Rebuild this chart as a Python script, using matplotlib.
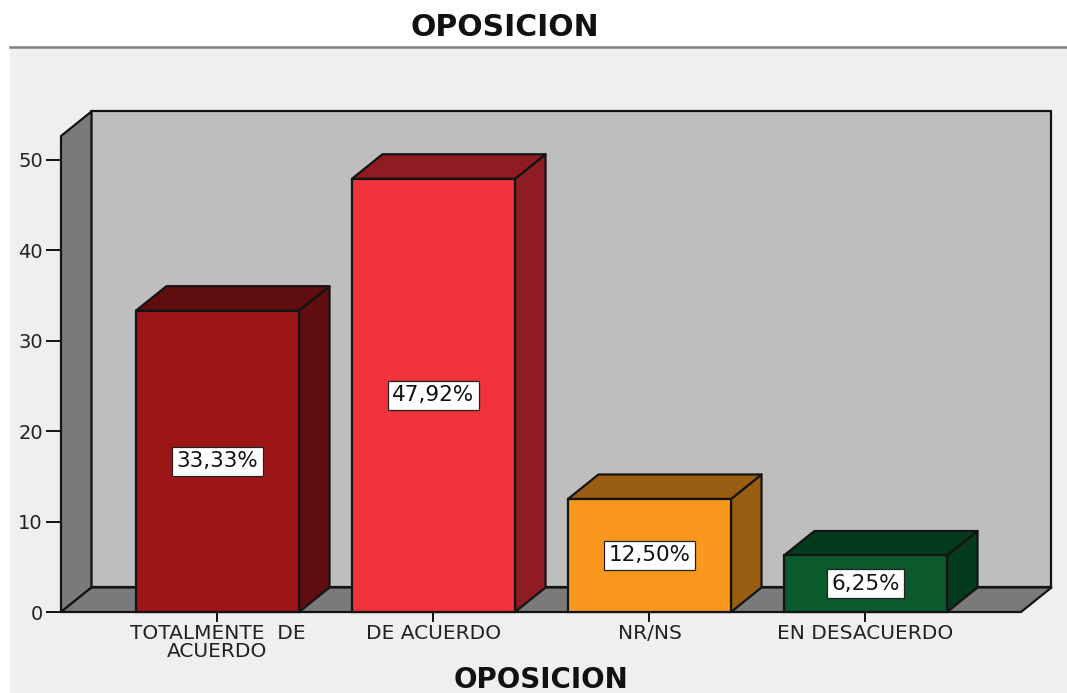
import matplotlib
matplotlib.use("Agg")
import matplotlib.pyplot as plt
from matplotlib.patches import Polygon, Rectangle
from matplotlib.lines import Line2D

plt.rcParams['font.family'] = ['DejaVu Sans']

categorias = ["TOTALMENTE  DE\nACUERDO", "DE ACUERDO", "NR/NS", "EN DESACUERDO"]
valores = [33.33, 47.92, 12.50, 6.25]
etiquetas = ["33,33%", "47,92%", "12,50%", "6,25%"]
ticks_y = [0, 10, 20, 30, 40, 50]
frente = ["#9E1518", "#F2333B", "#F9981D", "#0A5A2E"]
lado = ["#5F0D0F", "#8E1C22", "#9A5E12", "#063A1D"]

W, H = 1067, 693
fig = plt.figure(figsize=(W / 100, H / 100), dpi=100, facecolor="white")

# fondo gris del panel
fig.add_artist(Rectangle((10 / W, 0), (W - 10) / W, 1 - 47 / H, transform=fig.transFigure,
                         facecolor="#EFEFEF", edgecolor="none", zorder=-5))
fig.add_artist(Line2D([10 / W, 1], [1 - 47 / H, 1 - 47 / H], color="#7F7F7F", lw=1.8, zorder=-4))

ax = fig.add_axes([61 / W, 1 - 612 / H, 960 / W, 476 / H])
ax.patch.set_visible(False)
ax.set_xlim(-0.7245, 3.72)
ax.set_ylim(0, 52.65)
for s in ax.spines.values():
    s.set_visible(False)

dx = 30.5 / 216  # profundidad en unidades de datos
dy = 24.5 / 9.04
ancho = 0.755
x0, x1 = ax.get_xlim()
y1 = ax.get_ylim()[1]
borde = dict(edgecolor="#141414", linewidth=1.6, clip_on=False, joinstyle="round")

# paredes y suelo
ax.add_patch(Polygon([(x0 + dx, dy), (x1 + dx, dy), (x1 + dx, y1 + dy), (x0 + dx, y1 + dy)],
                     facecolor="#BEBEBE", zorder=1, **borde))
ax.add_patch(Polygon([(x0, 0), (x0 + dx, dy), (x0 + dx, y1 + dy), (x0, y1)],
                     facecolor="#7A7A7A", zorder=1, **borde))
ax.add_patch(Polygon([(x0, 0), (x0 + dx, dy), (x1 + dx, dy), (x1, 0)],
                     facecolor="#7A7A7A", zorder=1, **borde))

# barras
pos = list(range(len(valores)))
ax.bar(pos, valores, width=ancho, color=frente, edgecolor="#141414", linewidth=1.6, zorder=3, clip_on=False)
for i, v in enumerate(valores):
    a, b = i - ancho / 2, i + ancho / 2
    ax.add_patch(Polygon([(b, 0), (b + dx, dy), (b + dx, v + dy), (b, v)],
                         facecolor=lado[i], zorder=2.5, **borde))
    ax.add_patch(Polygon([(a, v), (a + dx, v + dy), (b + dx, v + dy), (b, v)],
                         facecolor=lado[i], zorder=2.5, **borde))
    ax.text(i, v / 2, etiquetas[i], ha="center", va="center", fontsize=15.5, color="#111111", zorder=5,
            bbox=dict(boxstyle="square,pad=0.2", facecolor="white", edgecolor="#222222", linewidth=0.9))

ax.set_xticks(pos)
ax.set_xticklabels(categorias, fontsize=14.5, linespacing=0.92, color="#222222")
ax.set_yticks(ticks_y)
ax.tick_params(axis="y", length=11, width=1.3, pad=2, labelsize=14, labelcolor="#222222")
ax.tick_params(axis="x", length=7.5, width=1.3, pad=1)

fig.text(505 / W, 1 - 27 / H, "OPOSICION", ha="center", va="center", fontsize=21.5, fontweight="bold", color="#111111")
fig.text(541 / W, 1 - 688 / H, "OPOSICION", ha="center", va="baseline", fontsize=20, fontweight="bold", color="#111111")

fig.savefig("out.png", dpi=100)
